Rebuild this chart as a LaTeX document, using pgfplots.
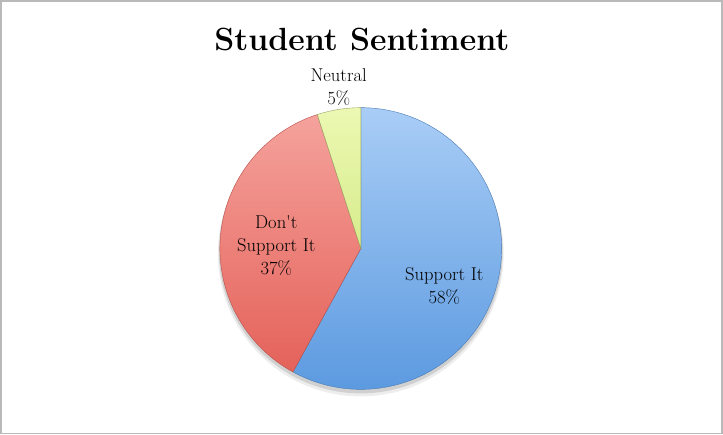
\documentclass[border=0pt]{standalone}
\usepackage{pgfplots}
\usepackage{pgfplotstable}
\pgfplotsset{compat=1.18}
\pgfplotstableread{
name value
Support 58
Dont 37
Neutral 5
}\piedata
\definecolor{bluetop}{HTML}{A9CDF6}
\definecolor{bluebot}{HTML}{5C9AE0}
\definecolor{redtop}{HTML}{F5A29C}
\definecolor{redbot}{HTML}{E4625A}
\definecolor{yeltop}{HTML}{ECF8B2}
\definecolor{yelbot}{HTML}{D6EC8C}
\begin{document}
\begin{tikzpicture}
\pgfplotstablegetelem{0}{value}\of\piedata \edef\vA{\pgfplotsretval}
\pgfplotstablegetelem{1}{value}\of\piedata \edef\vB{\pgfplotsretval}
\pgfplotstablegetelem{2}{value}\of\piedata \edef\vC{\pgfplotsretval}
\pgfmathsetmacro{\aA}{90}
\pgfmathsetmacro{\aB}{\aA-3.6*\vA}
\pgfmathsetmacro{\aC}{\aB-3.6*\vB}
\pgfmathsetmacro{\aD}{\aC-3.6*\vC}
\begin{axis}[scale only axis, width=723bp, height=433bp,
  xmin=0, xmax=723, ymin=0, ymax=433, hide axis, clip=false]
% frame
\draw[gray!55, line width=1.6bp] (axis cs:4.2,1.2) rectangle (axis cs:721.2,431.2);
% shadow
\fill[black, opacity=0.12] (axis cs:362,182) circle[radius=141bp];
\fill[black, opacity=0.07] (axis cs:362,180) circle[radius=142bp];
% slices
\shade[top color=bluetop, bottom color=bluebot, draw=bluebot!80!black, line width=0.4bp]
  (axis cs:362,185) -- ([shift={(\aA:140bp)}]axis cs:362,185)
  arc[start angle=\aA, end angle=\aB, radius=140bp] -- cycle;
\shade[top color=redtop, bottom color=redbot, draw=redbot!80!black, line width=0.4bp]
  (axis cs:362,185) -- ([shift={(\aB:140bp)}]axis cs:362,185)
  arc[start angle=\aB, end angle=\aC, radius=140bp] -- cycle;
\shade[top color=yeltop, bottom color=yelbot, draw=yelbot!70!black, line width=0.4bp]
  (axis cs:362,185) -- ([shift={(\aC:140bp)}]axis cs:362,185)
  arc[start angle=\aC, end angle=\aD, radius=140bp] -- cycle;
% labels
\node[align=center, font=\fontsize{32}{38}\selectfont\bfseries] at (axis cs:363,393) {Student Sentiment};
\node[align=center, font=\fontsize{18.5}{23}\selectfont] at (axis cs:340,345) {Neutral\\\vC\%};
\node[align=center, font=\fontsize{18.5}{23}\selectfont] at (axis cs:278,188) {Don\textquotesingle t\\Support It\\\vB\%};
\node[align=center, font=\fontsize{18.5}{23}\selectfont] at (axis cs:445,148) {Support It\\\vA\%};
\end{axis}
\end{tikzpicture}
\end{document}
